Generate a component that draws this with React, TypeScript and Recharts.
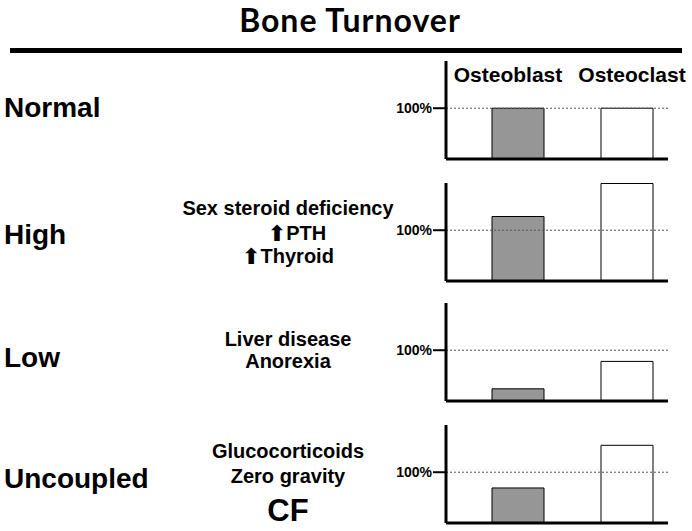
import React from "react";
import { BarChart, Bar, Cell, XAxis, YAxis, ReferenceLine } from "recharts";

const categories = ["Osteoblast", "Osteoclast"];
const rowLabels = ["Normal", "High", "Low", "Uncoupled"];
const normalValues = [100, 100];
const highValues = [127, 192];
const lowValues = [24, 78];
const uncoupledValues = [69, 153];
const yTicks = [100];
const highCauses = ["Sex steroid deficiency", "PTH", "Thyroid"];
const lowCauses = ["Liver disease", "Anorexia"];
const uncoupledCauses = ["Glucocorticoids", "Zero gravity", "CF"];

const ARIAL = "'Liberation Sans', Arial, sans-serif";
const barFills = ["#969696", "#ffffff"];

const rows = [normalValues, highValues, lowValues, uncoupledValues];
const panelTops = [61, 183, 303, 425];
const labelBaselines = [117, 244, 367, 488];

function Panel({ values, top }: { values: number[]; top: number }) {
  const data = categories.map((name, i) => ({ name, value: values[i] }));
  return (
    <div style={{ position: "absolute", left: 0, top: top - 5 }}>
      <BarChart
        width={692}
        height={113}
        data={data}
        margin={{ top: 5, right: 24, bottom: 5, left: 380 }}
      >
        <XAxis
          dataKey="name"
          tick={false}
          tickLine={false}
          axisLine={{ stroke: "#000", strokeWidth: 3 }}
          height={5}
          padding={{ left: 17, right: -13 }}
        />
        <YAxis
          type="number"
          domain={[0, 193]}
          ticks={yTicks}
          tickFormatter={(v: number) => `${v}%`}
          width={66}
          tickSize={13}
          tickMargin={1}
          axisLine={{ stroke: "#000", strokeWidth: 3 }}
          tickLine={{ stroke: "#000", strokeWidth: 2 }}
          tick={{ fill: "#000", fontSize: 14, fontWeight: "bold", fontFamily: ARIAL }}
          allowDataOverflow
        />
        <ReferenceLine y={100} stroke="#555" strokeDasharray="2 2" strokeWidth={1} />
        <Bar dataKey="value" barSize={52} stroke="#000" strokeWidth={1} isAnimationActive={false}>
          {data.map((d, i) => (
            <Cell key={d.name} fill={barFills[i]} />
          ))}
        </Bar>
      </BarChart>
    </div>
  );
}

function Arrow() {
  return <tspan fontFamily="'DejaVu Sans'" fontSize={22} dy={1}>⬆</tspan>;
}

export default function App() {
  const midText = { fontFamily: ARIAL, fontWeight: "bold" as const, fontSize: 20, fill: "#000", textAnchor: "middle" as const };
  return (
    <div style={{ position: "absolute", left: 0, top: 0, width: 692, height: 531, background: "#fff" }}>
      {rows.map((vals, i) => (
        <Panel key={rowLabels[i]} values={vals} top={panelTops[i]} />
      ))}
      <svg width={692} height={531} style={{ position: "absolute", left: 0, top: 0, pointerEvents: "none" }}>
        <text x={350} y={32} textAnchor="middle" fontFamily="Lato, 'Open Sans', sans-serif" fontWeight="bold" fontSize={32} letterSpacing={1}>
          Bone Turnover
        </text>
        <rect x={10} y={48} width={672} height={5} fill="#000" />

        {categories.map((c, i) => (
          <text key={c} x={i === 0 ? 508 : 632} y={82} textAnchor="middle" fontFamily={ARIAL} fontWeight="bold" fontSize={21}>
            {c}
          </text>
        ))}

        {rowLabels.map((l, i) => (
          <text key={l} x={4} y={labelBaselines[i]} fontFamily={ARIAL} fontWeight="bold" fontSize={28}>
            {l}
          </text>
        ))}

        <text x={288} y={215} {...midText}>{highCauses[0]}</text>
        <text x={297} y={240} {...midText}><Arrow /><tspan dy={-1}>{highCauses[1]}</tspan></text>
        <text x={288} y={263} {...midText}><Arrow /><tspan dy={-1}>{highCauses[2]}</tspan></text>

        <text x={288} y={346} {...midText}>{lowCauses[0]}</text>
        <text x={288} y={368} {...midText}>{lowCauses[1]}</text>

        <text x={288} y={458} {...midText}>{uncoupledCauses[0]}</text>
        <text x={288} y={483} {...midText}>{uncoupledCauses[1]}</text>
        <text x={288} y={521} {...midText} fontSize={31}>{uncoupledCauses[2]}</text>
      </svg>
    </div>
  );
}
